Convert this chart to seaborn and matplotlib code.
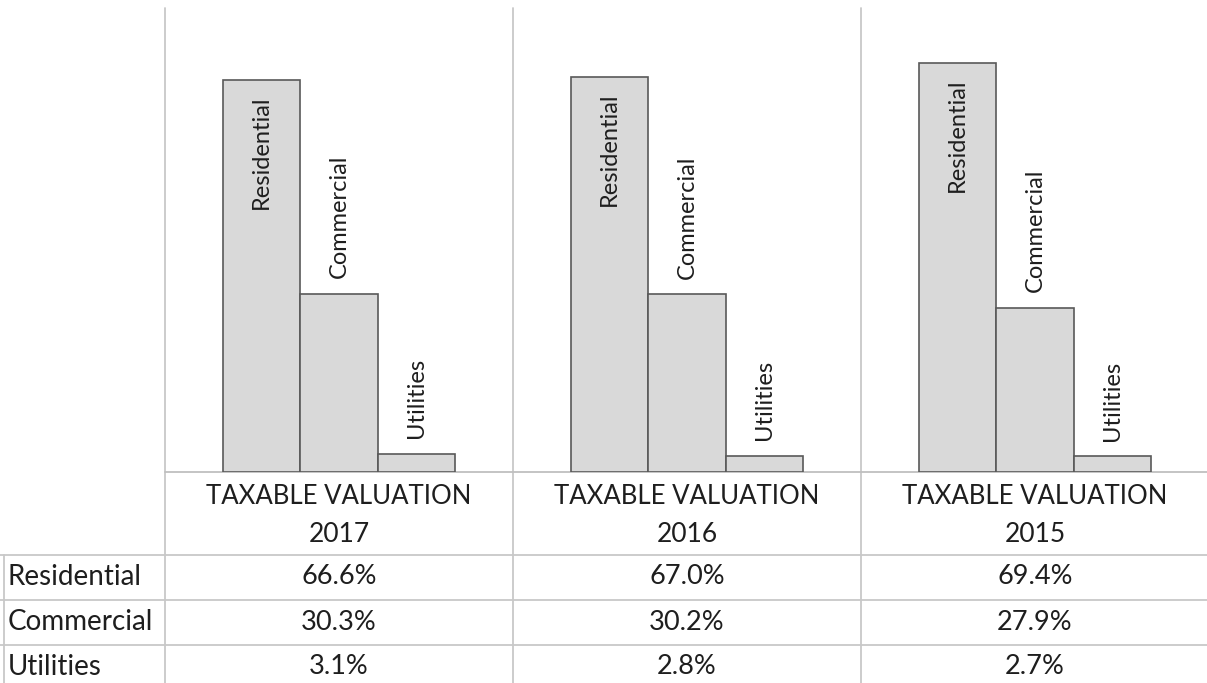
import pandas as pd
import numpy as np
import matplotlib
matplotlib.use("Agg")
import matplotlib.pyplot as plt
import seaborn as sns

# data
years = ["TAXABLE VALUATION\n2017", "TAXABLE VALUATION\n2016", "TAXABLE VALUATION\n2015"]
categories = ["Residential", "Commercial", "Utilities"]
residential = [66.6, 67.0, 69.4]
commercial = [30.3, 30.2, 27.9]
utilities = [3.1, 2.8, 2.7]

values = {"Residential": residential, "Commercial": commercial, "Utilities": utilities}
df = pd.DataFrame([(y, c, values[c][i]) for i, y in enumerate(years) for c in categories],
                  columns=["year", "category", "value"])

sns.set_style("white")
plt.rcParams["font.family"] = ["Lato", "DejaVu Sans"]
txt = "#1e1e1e"
grid = "#c8c8c8"

W, H = 1207, 683
fig = plt.figure(figsize=(W / 100, H / 100), dpi=100)

# bar area in pixels: x 165..1209, y 8..472
ax = fig.add_axes([165 / W, (H - 472) / H, 1044 / W, 464 / H])
sns.barplot(data=df, x="year", y="value", hue="category", order=years, hue_order=categories,
            palette=["#d9d9d9"] * 3, edgecolor="#595959", linewidth=1.2, width=0.665,
            legend=False, ax=ax)
ax.set_xlim(-0.5, 2.5)
ax.set_ylim(0, 78.8)
ax.set_axis_off()

# category labels on the bars
for cont, cat in zip(ax.containers, categories):
    for bar in cont:
        cx = bar.get_x() + bar.get_width() / 2
        h = bar.get_height()
        if cat == "Residential":
            ax.text(cx, h - 2.6, cat, rotation=90, ha="center", va="top", fontsize=17, color=txt)
        else:
            ax.text(cx, h + 2.6, cat, rotation=90, ha="center", va="bottom", fontsize=17, color=txt)

# overlay in pixel coordinates for the grid and the data table
ov = fig.add_axes([0, 0, 1, 1], zorder=-1)
ov.set_xlim(0, W)
ov.set_ylim(H, 0)
ov.set_axis_off()

col_w = 348
for xv in [165, 165 + col_w, 165 + 2 * col_w]:
    ov.plot([xv, xv], [8, H], color=grid, lw=1.3)
ov.plot([4, 4], [555, H], color=grid, lw=1.3)
ov.plot([165, W], [472, 472], color="#bfbfbf", lw=1.3)
for yv in [555, 600, 645]:
    ov.plot([0, W], [yv, yv], color=grid, lw=1.3)

rows_y = [577, 622, 667]
for i, y in enumerate(years):
    cx = 165 + col_w * (i + 0.5)
    head, yr = y.split("\n")
    ov.text(cx, 496, head, ha="center", va="center", fontsize=18.5, color=txt)
    ov.text(cx, 535, yr, ha="center", va="center", fontsize=19, color=txt)
    for ry, cat in zip(rows_y, categories):
        ov.text(cx, ry, f"{values[cat][i]:.1f}%", ha="center", va="center", fontsize=19.5, color=txt)

for ry, cat in zip(rows_y, categories):
    ov.text(8, ry, cat, ha="left", va="center", fontsize=20, color=txt)

fig.savefig("out.png", dpi=100)
